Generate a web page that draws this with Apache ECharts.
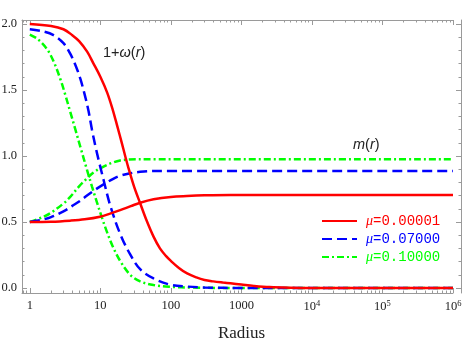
<!DOCTYPE html>
<html><head><meta charset="utf-8">
<script src="https://cdn.jsdelivr.net/npm/echarts@6/dist/echarts.min.js"></script>
<style>html,body{margin:0;padding:0;background:#fff}#c{width:463px;height:341px}</style>
</head><body><div id="c"></div>
<script>
// ---------- data ----------
const seriesNames = ['μ=0.00001', 'μ=0.07000', 'μ=0.10000'];
const seriesColors = ['#ff0000', '#0000ff', '#00ff00'];

const rOmegaRed = [1, 2, 3, 4, 5, 6.5, 8, 10, 12.5, 15, 17.5, 20, 22.5, 25, 30, 36.7, 45, 56.8, 70, 85, 100, 130, 170, 230, 300, 400, 550, 700, 1000, 1500, 2500, 5000, 10000, 1000000];
const omegaRed  = [2.0, 1.985, 1.96, 1.915, 1.87, 1.79, 1.70, 1.60, 1.48, 1.35, 1.22, 1.105, 1.0, 0.91, 0.77, 0.642, 0.515, 0.389, 0.30, 0.243, 0.205, 0.152, 0.11, 0.08, 0.061, 0.05, 0.041, 0.035, 0.026, 0.016, 0.007, 0.002, 0, 0];
const rMRed = [1, 2, 3.74, 6, 9.9, 14, 19.1, 27, 36.7, 56.8, 100, 168, 300, 700, 1000000];
const mRed  = [0.5, 0.502, 0.51, 0.52, 0.54, 0.565, 0.59, 0.62, 0.646, 0.672, 0.69, 0.697, 0.702, 0.705, 0.705];

const rOmegaBlue = [1, 1.5, 2.17, 3, 3.74, 4.5, 5.2, 6, 6.8, 7.6, 8.5, 9.7, 11.1, 13.8, 19.1, 26.5, 36.7, 56.8, 98, 168, 300, 1000, 1000000];
const omegaBlue  = [1.96, 1.945, 1.915, 1.855, 1.775, 1.68, 1.585, 1.465, 1.34, 1.20, 1.075, 0.945, 0.82, 0.625, 0.41, 0.254, 0.142, 0.072, 0.025, 0.011, 0.004, 0, 0];
const rMBlue = [1, 1.5, 2, 3, 4, 5, 6.47, 8.5, 11.1, 15, 19.1, 26.5, 36.7, 60, 1000000];
const mBlue  = [0.5, 0.517, 0.537, 0.58, 0.622, 0.655, 0.70, 0.745, 0.785, 0.825, 0.85, 0.869, 0.88, 0.886, 0.886];

const rOmegaGreen = [1, 1.3, 1.75, 2.2, 2.7, 3.2, 3.74, 4.4, 5.2, 6.47, 7.6, 8.93, 10.5, 12.4, 15, 19.1, 26.5, 36.7, 56.8, 98, 200, 1000, 1000000];
const omegaGreen  = [1.92, 1.885, 1.81, 1.71, 1.585, 1.46, 1.335, 1.205, 1.07, 0.895, 0.77, 0.65, 0.535, 0.425, 0.315, 0.205, 0.10, 0.05, 0.022, 0.009, 0.003, 0, 0];
const rMGreen = [1, 1.5, 1.95, 3, 3.74, 5, 6.47, 8, 11.1, 15, 19.1, 25, 35, 1000000];
const mGreen  = [0.5, 0.535, 0.566, 0.64, 0.69, 0.77, 0.83, 0.875, 0.92, 0.95, 0.966, 0.973, 0.975, 0.975];

// axis ticks (log10 exponents for x)
const xMajorExp = [0, 1, 2, 3, 4, 5, 6];
const yMajor = [0, 0.5, 1.0, 1.5, 2.0];
const yMinor = [0.1, 0.2, 0.3, 0.4, 0.6, 0.7, 0.8, 0.9, 1.1, 1.2, 1.3, 1.4, 1.6, 1.7, 1.8, 1.9];
const X_MIN = 0.775, X_MAX = 1e6, Y_MIN = -0.038, Y_MAX = 2.03;

// ---------- build ----------
const xMinor = [];
for (let n = -1; n < 6; n++) for (let k = 2; k <= 9; k++) {
  const v = Math.log10(k * Math.pow(10, n));
  if (v > Math.log10(X_MIN)) xMinor.push(v);
}
const pairs = (xs, ys) => xs.map((x, i) => [x, ys[i]]);
const FRAME = '#9a9a9a';
const LMIN = Math.log10(X_MIN), LMAX = Math.log10(X_MAX);

const styles = [
  { type: 'solid', width: 2.5 },
  { type: [10, 5], width: 2.5 },
  { type: [7, 3, 2, 3], width: 2.5 }
];
function mk(idx, data) {
  return {
    type: 'line', name: seriesNames[idx], data: data, xAxisIndex: 0, yAxisIndex: 0,
    showSymbol: false, symbol: 'none', smooth: 0.35, color: seriesColors[idx],
    lineStyle: Object.assign({ color: seriesColors[idx] }, styles[idx]),
    emphasis: { disabled: true }, z: 3 - idx + 2
  };
}
const series = [
  mk(2, pairs(rOmegaGreen, omegaGreen)), mk(2, pairs(rMGreen, mGreen)),
  mk(1, pairs(rOmegaBlue, omegaBlue)), mk(1, pairs(rMBlue, mBlue)),
  mk(0, pairs(rOmegaRed, omegaRed)), mk(0, pairs(rMRed, mRed))
];

const labelFont = { fontFamily: 'Liberation Serif', fontSize: 12.5, color: '#222' };
function tickAxis(pos, vals, len, showLine, labels) {
  return {
    type: 'value', position: pos, min: LMIN, max: LMAX,
    axisLine: { show: showLine, onZero: false, lineStyle: { color: FRAME, width: 1 } },
    axisTick: { show: true, inside: true, length: len, customValues: vals, lineStyle: { color: FRAME } },
    axisLabel: labels ? Object.assign({
      show: true, customValues: xMajorExp, margin: 6,
      formatter: v => { const e = Math.round(v); return e <= 3 ? String(Math.pow(10, e)) : '10{sup|' + e + '}'; },
      rich: { sup: { fontFamily: 'Liberation Serif', fontSize: 8.5, color: '#222', verticalAlign: 'bottom', padding: [0, 0, 7, 0] } }
    }, labelFont) : { show: false },
    splitLine: { show: false }
  };
}
function yTickAxis(pos, vals, len, showLine, labels, offset) {
  return {
    type: 'value', position: pos, min: Y_MIN, max: Y_MAX, offset: offset || 0,
    axisLine: { show: showLine, onZero: false, lineStyle: { color: FRAME, width: 1 } },
    axisTick: { show: true, inside: true, length: len, customValues: vals, lineStyle: { color: FRAME } },
    axisLabel: labels ? Object.assign({ show: true, customValues: yMajor, margin: 5, formatter: v => v.toFixed(1) }, labelFont) : { show: false },
    splitLine: { show: false }
  };
}

const xAxes = [
  { type: 'log', min: X_MIN, max: X_MAX, show: false, axisLine: { onZero: false } },
  Object.assign(tickAxis('bottom', xMajorExp, 5, true, true), {
    name: 'Radius', nameLocation: 'middle', nameGap: 32,
    nameTextStyle: { fontFamily: 'Liberation Serif', fontSize: 17, color: '#222', padding: [0, 0, 0, 8] }
  }),
  tickAxis('bottom', xMinor, 2.5, false, false),
  tickAxis('top', xMajorExp, 5, true, false),
  tickAxis('top', xMinor, 2.5, false, false)
];
const yAxes = [
  yTickAxis('left', yMajor, 5, true, true),
  yTickAxis('left', yMinor, 2.5, false, false),
  yTickAxis('right', yMajor, 5, true, false, 8),
  yTickAxis('right', yMinor, 2.5, false, false, 8)
];

const chart = echarts.init(document.getElementById('c'), null, { renderer: 'canvas' });
chart.setOption({
  animation: false,
  backgroundColor: '#fff',
  grid: { left: 22, right: 10, top: 20, bottom: 48, containLabel: false, outerBoundsMode: 'none' },
  xAxis: xAxes,
  yAxis: yAxes,
  legend: {
    orient: 'vertical', left: 321, top: 214, padding: 0, itemWidth: 35, itemHeight: 14, itemGap: 4,
    itemStyle: { opacity: 0 },
    data: seriesNames.map((n, i) => ({ name: n, textStyle: { color: seriesColors[i] } })),
    formatter: n => '{i|μ}' + n.slice(1),
    textStyle: {
      fontFamily: 'Liberation Mono', fontSize: 14, padding: [0, 0, 0, 4],
      rich: { i: { fontFamily: 'Liberation Serif', fontStyle: 'italic', fontSize: 14 } }
    },
    selectedMode: false
  },
  graphic: [
    { type: 'text', left: 103, top: 45, style: {
      text: '1+{i|ω}({i|r})', font: '14.5px "Liberation Sans"', fill: '#222',
      rich: { i: { fontStyle: 'italic', fontFamily: 'Liberation Sans', fontSize: 14.5, fill: '#222' } } } },
    { type: 'text', left: 353, top: 137, style: {
      text: '{i|m}({i|r})', font: '14.5px "Liberation Sans"', fill: '#222',
      rich: { i: { fontStyle: 'italic', fontFamily: 'Liberation Sans', fontSize: 14.5, fill: '#222' } } } }
  ],
  series: series
});
</script>
</body></html>
